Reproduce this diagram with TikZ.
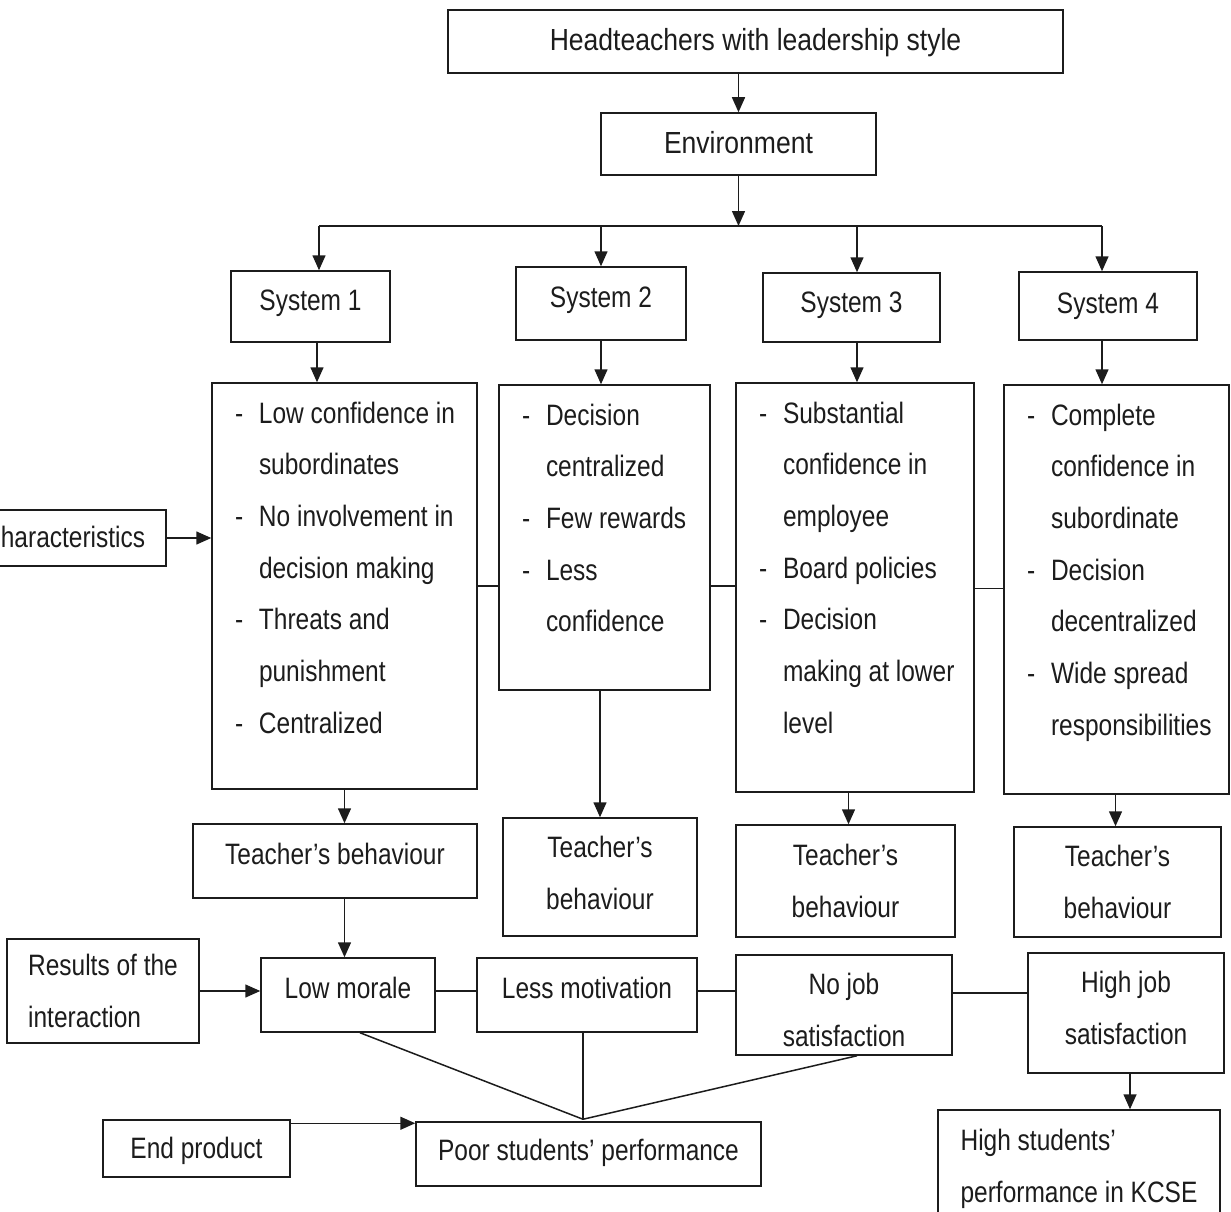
\documentclass[tikz,border=0pt]{standalone}
\usepackage{fontspec}
\setmainfont[FakeStretch=0.83]{Liberation Sans}
\newfontfamily\hdfont[FakeStretch=0.87]{Liberation Sans}
\usetikzlibrary{arrows.meta,calc}
\newcommand\li[1]{\hspace*{23pt}\makebox[24pt][l]{-}\mbox{#1}}
\newcommand\lc[1]{\hspace*{47pt}\mbox{#1}}
\newcommand\lst[3]{\parbox[c][#1][t]{#2}{\fontsize{29.5}{51.7}\selectfont\rule{0pt}{40pt}\ignorespaces#3}}
\newcommand\updn[1]{\rule[-#1]{0pt}{#1}}
\definecolor{ink}{HTML}{1C1C1C}
\tikzset{
  rect/.style n args={4}{at={({((#1)+(#3))/2},{((#2)+(#4))/2})}, minimum width={(#3)-(#1)}, minimum height={(#4)-(#2)}},
  bx/.style={draw=ink, line width=1.5pt, inner sep=0pt, text=ink, anchor=center},
  one/.style={bx, font=\fontsize{29.5}{51.7}\selectfont, text height=21pt, text depth=9pt},
  hi/.style={text depth=14pt},
  lo/.style={text depth=2pt},
  hd/.style={font=\hdfont\fontsize{30.5}{51.7}\selectfont},
  two/.style={bx, font=\fontsize{29.5}{51.7}\selectfont, align=center},
  lbox/.style={bx},
  arr/.style={draw=ink, line width=1.5pt, -{Triangle[length=15pt,width=13pt]}},
  ln/.style={draw=ink, line width=1.5pt}
}
\begin{document}
\begin{tikzpicture}[x=1pt,y=-1pt]
\useasboundingbox (0,0) rectangle (1231,1212);
\fill[white] (0,0) rectangle (1231,1212);
\clip (0,0) rectangle (1231,1212);

\node[one, hd, text depth=3pt, rect={448}{10}{1063}{73}] (head) {Headteachers with leadership style};
\node[one, hd, lo, rect={601}{113}{876}{175}] (env) {Environment};

\node[one, hi, rect={231}{271}{390}{342}] (s1) {System 1};
\node[one, hi, rect={516}{267}{686}{340}] (s2) {System 2};
\node[one, text depth=11pt, rect={763}{273}{940}{342}] (s3) {System 3};
\node[one, text depth=6pt, rect={1019}{272}{1197}{340}] (s4) {System 4};

\node[lbox, rect={212}{383}{477}{789}] (l1) {\lst{406pt}{265pt}{\li{Low confidence in}\\\lc{subordinates}\\\li{No involvement in}\\\lc{decision making}\\\li{Threats and}\\\lc{punishment}\\\li{Centralized}}};
\node[lbox, rect={499}{385}{710}{690}] (l2) {\lst{305pt}{211pt}{\li{Decision}\\\lc{centralized}\\\li{Few rewards}\\\li{Less}\\\lc{confidence}}};
\node[lbox, rect={736}{383}{974}{792}] (l3) {\lst{409pt}{238pt}{\li{Substantial}\\\lc{confidence in}\\\lc{employee}\\\li{Board policies}\\\li{Decision}\\\lc{making at lower}\\\lc{level}}};
\node[lbox, rect={1004}{385}{1229}{794}] (l4) {\lst{409pt}{225pt}{\li{Complete}\\\lc{confidence in}\\\lc{subordinate}\\\li{Decision}\\\lc{decentralized}\\\li{Wide spread}\\\lc{responsibilities}}};

\node[one, lo, rect={-20}{510}{166}{566}] (char) {haracteristics};

\node[one, hi, rect={193}{824}{477}{898}] (tb1) {Teacher’s behaviour};
\node[two, rect={503}{818}{697}{936}] (tb2) {Teacher’s\\behaviour\updn{8pt}};
\node[two, rect={736}{825}{955}{937}] (tb3) {Teacher’s\\behaviour};
\node[two, rect={1014}{827}{1221}{937}] (tb4) {Teacher’s\\behaviour};

\node[two, align=left, rect={7}{939}{199}{1043}] (res) {Results of the\\interaction};
\node[one, hi, rect={261}{958}{435}{1032}] (lm) {Low morale};
\node[one, hi, rect={477}{958}{697}{1032}] (lmot) {Less motivation};
\node[two, rect={736}{955}{952}{1055}] (nj) {\rule{0pt}{31pt}No job\\satisfaction};
\node[two, rect={1028}{953}{1224}{1073}] (hj) {High job\\satisfaction\updn{10pt}};
\node[two, align=left, rect={938}{1110}{1220}{1228}] (hs) {High students’\\performance in KCSE};
\node[one, rect={416}{1122}{761}{1186}] (poor) {Poor students’ performance};
\node[one, lo, rect={103}{1120}{290}{1177}] (ep) {End product};

% top chain
\draw[arr] (env.north |- head.south) -- (env.north);
\coordinate (bus) at (env.south |- 0,226);
\draw[arr] (env.south) -- (bus);
\coordinate (b1) at (319,226);
\coordinate (b2) at (601,226);
\coordinate (b3) at (857,226);
\coordinate (b4) at (1102,226);
\draw[ln] (b1) -- (b4);
\draw[arr] (b1) -- (b1 |- s1.north);
\draw[arr] (b2) -- (b2 |- s2.north);
\draw[arr] (b3) -- (b3 |- s3.north);
\draw[arr] (b4) -- (b4 |- s4.north);
\draw[arr] ($(b1 |- s1.south)+(-2,0)$) -- ($(b1 |- l1.north)+(-2,0)$);
\draw[arr] (b2 |- s2.south) -- (b2 |- l2.north);
\draw[arr] (b3 |- s3.south) -- (b3 |- l3.north);
\draw[arr] (b4 |- s4.south) -- (b4 |- l4.north);

% list links
\draw[arr] (char.east) -- (char.east -| l1.west);
\draw[ln] (l1.east) -- (l1.east -| l2.west);
\draw[ln] (l1.east -| l2.east) -- (l1.east -| l3.west);
\draw[ln] ($(l3.east)+(0,1)$) -- ($(l3.east -| l4.west)+(0,1)$);

% to teacher's behaviour
\draw[arr] (l1.south) -- (l1.south |- tb1.north);
\draw[arr] (tb2.north |- l2.south) -- (tb2.north);
\draw[arr] ($(tb3.north |- l3.south)+(3,0)$) -- ($(tb3.north)+(3,0)$);
\draw[arr] ($(tb4.north |- l4.south)+(-2,0)$) -- ($(tb4.north)+(-2,0)$);

% results row
\draw[arr] (l1.south |- tb1.south) -- (l1.south |- lm.north);
\draw[arr] (res.east) -- (res.east -| lm.west);
\draw[ln] (res.east -| lm.east) -- (res.east -| lmot.west);
\draw[ln] (res.east -| lmot.east) -- (res.east -| nj.west);
\draw[ln] ($(res.east -| nj.east)+(0,2)$) -- ($(res.east -| hj.west)+(0,2)$);
\draw[arr] ($(hj.south)+(4,0)$) -- ($(hj.south |- hs.north)+(4,0)$);

% convergence
\coordinate (conv) at ($(lmot.south |- poor.north)+(-4,-2)$);
\draw[ln] ($(lm.south)+(12,0)$) -- (conv);
\draw[ln] (lmot.south -| conv) -- (conv);
\draw[ln] ($(nj.south)+(13,0)$) -- (conv);
\draw[arr] ($(ep.north east)+(0,4)$) -- ($(ep.north east -| poor.west)+(0,4)$);
\end{tikzpicture}
\end{document}
